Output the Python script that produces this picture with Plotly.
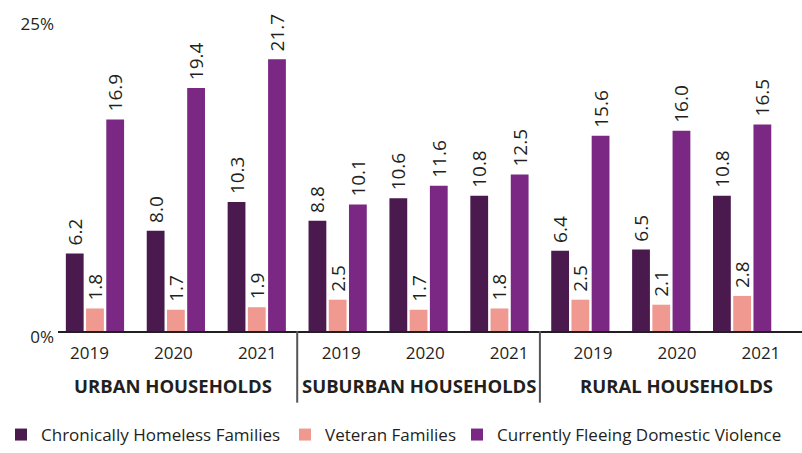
import plotly.graph_objects as go

years = ["2019", "2020", "2021", "2019", "2020", "2021", "2019", "2020", "2021"]
groups = ["URBAN HOUSEHOLDS", "SUBURBAN HOUSEHOLDS", "RURAL HOUSEHOLDS"]
series_names = ["Chronically Homeless Families", "Veteran Families", "Currently Fleeing Domestic Violence"]
chronic = [6.2, 8.0, 10.3, 8.8, 10.6, 10.8, 6.4, 6.5, 10.8]
veteran = [1.8, 1.7, 1.9, 2.5, 1.7, 1.8, 2.5, 2.1, 2.8]
fleeing = [16.9, 19.4, 21.7, 10.1, 11.6, 12.5, 15.6, 16.0, 16.5]
colors = ["#4a1a4e", "#ef9991", "#7a2884"]
ytick_vals = [0, 25]
ytick_text = ["0%", "25%"]

FONT = "Open Sans"
TXT = "#231f20"
legend_widths = [239, 127, 300]
group_label_axes = ["x2", "x", "x2"]

idx = list(range(len(years)))
fig = go.Figure()
for name, vals, col, lw in zip(series_names, [chronic, veteran, fleeing], colors, legend_widths):
    fig.add_trace(go.Bar(
        x=idx, y=vals, name=name, marker_color=col, marker_line_width=0,
        texttemplate="\u00a0%{y:.1f}", textposition="outside", textangle=-90,
        constraintext="none", legendwidth=lw,
        textfont=dict(family=FONT, size=19, color=TXT), cliponaxis=False,
    ))

# invisible trace to carry the year-label axis
fig.add_trace(go.Scatter(x=idx, y=[0] * len(idx), xaxis="x2", mode="markers",
                         marker=dict(opacity=0), showlegend=False, hoverinfo="skip"))

fig.update_layout(
    width=802, height=453,
    margin=dict(l=58, r=0, t=18, b=121),
    paper_bgcolor="white", plot_bgcolor="white",
    barmode="group", bargap=0.25, bargroupgap=0.12,
    font=dict(family=FONT, size=17, color=TXT),
    showlegend=True,
    legend=dict(orientation="h", x=-0.0699, xanchor="left", y=-0.333, yanchor="middle",
                font=dict(family=FONT, size=17, color=TXT), traceorder="normal",
                itemclick=False, itemdoubleclick=False),
    xaxis=dict(range=[-0.457, 8.74], showticklabels=False, showgrid=False, zeroline=False,
               showline=True, linecolor=TXT, linewidth=2, ticks="", automargin=False),
    xaxis2=dict(range=[-0.375, 8.49], overlaying="x", side="bottom",
                tickvals=idx, ticktext=years, showgrid=False, zeroline=False,
                showline=False, ticks="outside", ticklen=7, tickcolor="rgba(0,0,0,0)",
                tickfont=dict(family=FONT, size=17, color=TXT), automargin=False),
    yaxis=dict(range=[0, 25], tickvals=ytick_vals, ticktext=ytick_text, showgrid=False,
               zeroline=False, showline=False, ticks="", automargin=False,
               ticklabelshift=6, ticklabelstandoff=3, ticklabeloverflow="allow",
               tickfont=dict(family=FONT, size=17, color=TXT)),
)

for i, (g, ax) in enumerate(zip(groups, group_label_axes)):
    fig.add_annotation(x=1 + 3 * i, xref=ax, y=-0.175, yref="paper", text=f"<b>{g}</b>",
                       showarrow=False, yanchor="middle",
                       font=dict(family=FONT, size=18.5, color=TXT))
for s in [2.5, 5.5]:
    fig.add_shape(type="line", x0=s, x1=s, xref="x", y0=0, y1=-0.229, yref="paper",
                  line=dict(color="#555555", width=2))

fig.write_html("out.html", config={"displayModeBar": False},
               post_script="document.body.style.margin='0';")
